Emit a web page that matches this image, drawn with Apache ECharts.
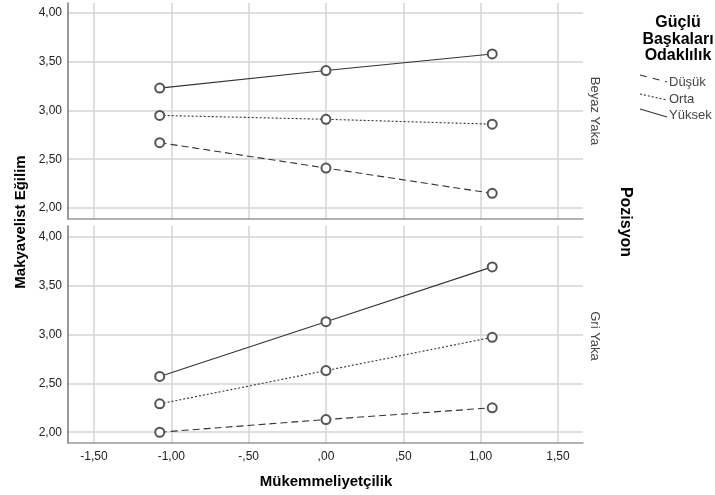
<!DOCTYPE html>
<html>
<head>
<meta charset="utf-8">
<script src="https://cdn.jsdelivr.net/npm/echarts@6/dist/echarts.min.js"></script>
<style>
html,body{margin:0;padding:0;background:#fff;}
#c{width:715px;height:495px;}
</style>
</head>
<body>
<div id="c"></div>
<script>
// ---- data ----
const xValues = [-1.075, 0, 1.075];
const panels = ["Beyaz Yaka", "Gri Yaka"];
const groups = ["Düşük", "Orta", "Yüksek"];
const beyazDusuk = [2.67, 2.41, 2.15];
const beyazOrta = [2.95, 2.91, 2.86];
const beyazYuksek = [3.23, 3.41, 3.58];
const griDusuk = [2.00, 2.13, 2.25];
const griOrta = [2.29, 2.63, 2.97];
const griYuksek = [2.57, 3.13, 3.69];
const xTicks = [-1.5, -1, -0.5, 0, 0.5, 1, 1.5];
const yTicks = [2, 2.5, 3, 3.5, 4];

function fmt(v) {
  let s = Math.abs(v).toFixed(2).replace('.', ',');
  if (s.charAt(0) === '0') s = s.slice(1);
  return (v < 0 ? '-' : '') + s;
}
const FONT = 'Liberation Sans, Arial, sans-serif';
const lineStyles = {
  "Düşük": { type: [7, 4] },
  "Orta": { type: [2, 2] },
  "Yüksek": { type: 'solid' }
};
const panelData = [
  [beyazDusuk, beyazOrta, beyazYuksek],
  [griDusuk, griOrta, griYuksek]
];

const chart = echarts.init(document.getElementById('c'), null, { renderer: 'canvas' });

const grids = [
  { left: 68, right: 132, top: 3, height: 216 },
  { left: 68, right: 132, top: 226, height: 217 }
];
const xAxes = [0, 1].map(i => ({
  type: 'value', gridIndex: i, min: -1.668, max: 1.662,
  axisLine: { show: true, onZero: false, lineStyle: { color: '#999', width: 1.5 } },
  axisTick: { show: false, customValues: xTicks },
  axisLabel: { show: i === 1, customValues: xTicks, formatter: fmt, color: '#222', fontSize: 12, fontFamily: FONT, margin: 8 },
  splitLine: { show: true, lineStyle: { color: '#d4d4d4', width: 1.5 } }
}));
const yRanges = [[1.887, 4.103], [1.89, 4.108]];
const yAxes = [0, 1].map(i => ({
  type: 'value', gridIndex: i, min: yRanges[i][0], max: yRanges[i][1],
  axisLine: { show: true, onZero: false, lineStyle: { color: '#777', width: 1.5 } },
  axisTick: { show: false, customValues: yTicks },
  axisLabel: { show: true, customValues: yTicks, formatter: fmt, color: '#222', fontSize: 12, fontFamily: FONT, margin: 6 },
  splitLine: { show: true, lineStyle: { color: '#d4d4d4', width: 1.5 } }
}));

const series = [];
panelData.forEach((pd, pi) => {
  pd.forEach((vals, gi) => {
    series.push({
      type: 'line', name: groups[gi], xAxisIndex: pi, yAxisIndex: pi,
      data: xValues.map((x, k) => [x, vals[k]]),
      symbol: 'emptyCircle', symbolSize: 9,
      lineStyle: { color: '#333', width: 1.1, type: lineStyles[groups[gi]].type },
      itemStyle: { color: '#555', borderColor: '#555', borderWidth: 1 },
      emphasis: { disabled: true },
      animation: false, z: 3
    });
  });
});

const graphic = [
  // axis titles
  { type: 'text', x: 326, y: 482, style: { text: 'Mükemmeliyetçilik', font: 'bold 15px ' + FONT, fill: '#000', align: 'center', verticalAlign: 'middle' } },
  { type: 'text', x: 21, y: 222, rotation: Math.PI / 2, style: { text: 'Makyavelist Eğilim', font: 'bold 15px ' + FONT, fill: '#000', align: 'center', verticalAlign: 'middle' } },
  { type: 'text', x: 625, y: 222, rotation: -Math.PI / 2, style: { text: 'Pozisyon', font: 'bold 16px ' + FONT, fill: '#000', align: 'center', verticalAlign: 'middle' } },
  // strip labels
  { type: 'text', x: 595, y: 111, rotation: -Math.PI / 2, style: { text: panels[0], font: '13px ' + FONT, fill: '#444', align: 'center', verticalAlign: 'middle' } },
  { type: 'text', x: 595, y: 336, rotation: -Math.PI / 2, style: { text: panels[1], font: '13px ' + FONT, fill: '#444', align: 'center', verticalAlign: 'middle' } },
  // legend title
  { type: 'text', x: 678, y: 23, style: { text: 'Güçlü', font: 'bold 16px ' + FONT, fill: '#000', align: 'center', verticalAlign: 'middle' } },
  { type: 'text', x: 678, y: 39.5, style: { text: 'Başkaları', font: 'bold 16px ' + FONT, fill: '#000', align: 'center', verticalAlign: 'middle' } },
  { type: 'text', x: 678, y: 56, style: { text: 'Odaklılık', font: 'bold 16px ' + FONT, fill: '#000', align: 'center', verticalAlign: 'middle' } },
  // legend samples
  { type: 'line', shape: { x1: 640, y1: 75, x2: 667, y2: 82 }, style: { stroke: '#333', lineWidth: 1.1, lineDash: [7, 6] } },
  { type: 'line', shape: { x1: 640, y1: 94, x2: 667, y2: 100 }, style: { stroke: '#333', lineWidth: 1.1, lineDash: [2, 2] } },
  { type: 'line', shape: { x1: 640, y1: 109, x2: 667, y2: 117 }, style: { stroke: '#333', lineWidth: 1.1 } },
  { type: 'text', x: 669, y: 82, style: { text: groups[0], font: '13px ' + FONT, fill: '#444', verticalAlign: 'middle' } },
  { type: 'text', x: 669, y: 99, style: { text: groups[1], font: '13px ' + FONT, fill: '#444', verticalAlign: 'middle' } },
  { type: 'text', x: 669, y: 115, style: { text: groups[2], font: '13px ' + FONT, fill: '#444', verticalAlign: 'middle' } }
];

chart.setOption({
  animation: false,
  backgroundColor: '#fff',
  grid: grids,
  xAxis: xAxes,
  yAxis: yAxes,
  series: series,
  graphic: graphic
});
</script>
</body>
</html>
